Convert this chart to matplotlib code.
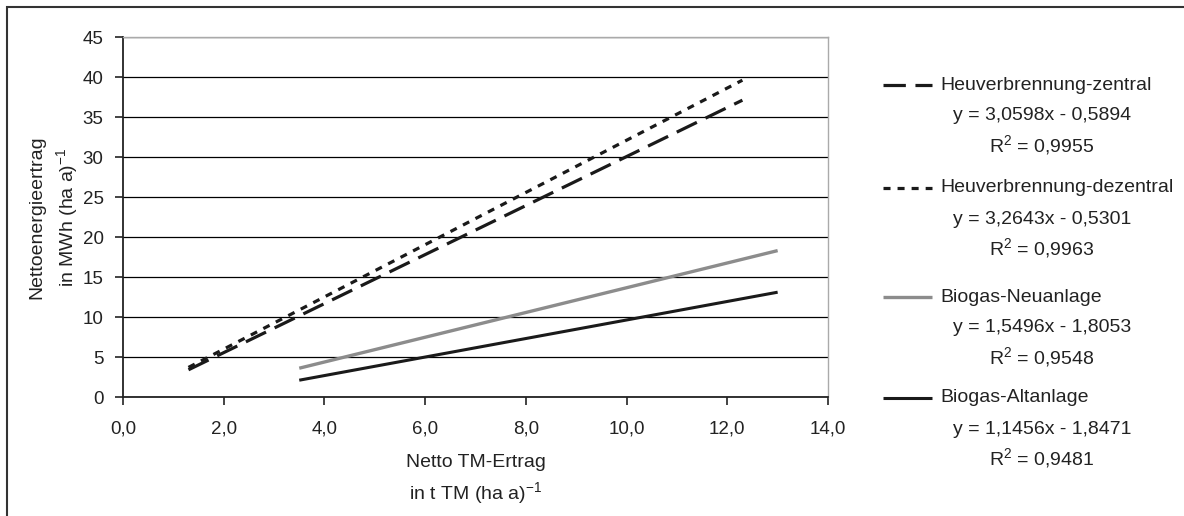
import matplotlib as mpl
import matplotlib.pyplot as plt
from matplotlib.lines import Line2D
from matplotlib.patches import Rectangle

# trend line end points
x_zentral = [1.3, 12.3]
y_zentral = [3.4, 37.1]
x_dezentral = [1.3, 12.3]
y_dezentral = [3.7, 39.6]
x_neu = [3.5, 13.0]
y_neu = [3.6, 18.3]
x_alt = [3.5, 13.0]
y_alt = [2.1, 13.1]

names = ["Heuverbrennung-zentral", "Heuverbrennung-dezentral", "Biogas-Neuanlage", "Biogas-Altanlage"]
equations = ["y = 3,0598x - 0,5894", "y = 3,2643x - 0,5301", "y = 1,5496x - 1,8053", "y = 1,1456x - 1,8471"]
r_squared = ["0,9955", "0,9963", "0,9548", "0,9481"]

x_ticks = [0, 2, 4, 6, 8, 10, 12, 14]
y_ticks = [0, 5, 10, 15, 20, 25, 30, 35, 40, 45]

mpl.rcParams['font.family'] = ['Liberation Sans', 'DejaVu Sans']
mpl.rcParams['mathtext.fontset'] = 'custom'
mpl.rcParams['mathtext.rm'] = 'Liberation Sans'
mpl.rcParams['mathtext.it'] = 'Liberation Sans'
mpl.rcParams['font.size'] = 13.5

W, H = 1184, 516
fig = plt.figure(figsize=(W / 100, H / 100), dpi=100)
ax = fig.add_axes([123 / W, 1 - 397 / H, 705 / W, 360 / H])

styles = [
    dict(color="#1a1a1a", lw=2.3, dashes=(7, 3)),
    dict(color="#1a1a1a", lw=2.3, dashes=(2.2, 2.2)),
    dict(color="#8c8c8c", lw=2.4),
    dict(color="#1a1a1a", lw=2.2),
]
series = [(x_zentral, y_zentral), (x_dezentral, y_dezentral), (x_neu, y_neu), (x_alt, y_alt)]
for (xs, ys), st in zip(series, styles):
    ax.plot(xs, ys, solid_capstyle="butt", dash_capstyle="butt", zorder=3, **st)

ax.set_xlim(0, 14)
ax.set_ylim(0, 45)
ax.set_xticks(x_ticks)
ax.set_xticklabels([f"{v:.1f}".replace(".", ",") for v in x_ticks])
ax.set_yticks(y_ticks)
ax.yaxis.grid(True, color="black", lw=0.9)
ax.set_axisbelow(True)
ax.tick_params(direction="out", length=6, width=1.2, color="#222222", labelcolor="#222222")
ax.tick_params(axis="x", pad=11)
ax.tick_params(axis="y", pad=8)

for s in ["left", "bottom"]:
    ax.spines[s].set_color("#222222")
    ax.spines[s].set_linewidth(1.3)
for s in ["top", "right"]:
    ax.spines[s].set_color("#aaaaaa")
    ax.spines[s].set_linewidth(1.0)

ax.set_xlabel("Netto TM-Ertrag\nin t TM (ha a)$^{-1}$", fontsize=14, linespacing=1.45, color="#222222", labelpad=12)
ax.set_ylabel("Nettoenergieertrag\nin MWh (ha a)$^{-1}$", fontsize=14, linespacing=1.45, color="#222222", labelpad=2)

# legend drawn by hand, with the trend equations under each entry
name_y = [85, 188, 297, 398]
for i, name in enumerate(names):
    yy = 1 - name_y[i] / H
    fig.add_artist(Line2D([883 / W, 932 / W], [yy, yy], transform=fig.transFigure,
                          solid_capstyle="butt", dash_capstyle="butt", **styles[i]))
    fig.text(940 / W, yy, name, ha="left", va="center", fontsize=14, color="#222222")
    fig.text(1042 / W, yy - 31 / H, equations[i], ha="center", va="center", fontsize=14, color="#222222")
    fig.text(1042 / W, yy - 60 / H, "R$^2$ = " + r_squared[i], ha="center", va="center", fontsize=14, color="#222222")

fig.add_artist(Rectangle((7 / W, -0.2), 1.2, 1.2 - 7 / H, transform=fig.transFigure,
                         fill=False, edgecolor="#333333", lw=1.5))

fig.savefig("out.png", dpi=100)
